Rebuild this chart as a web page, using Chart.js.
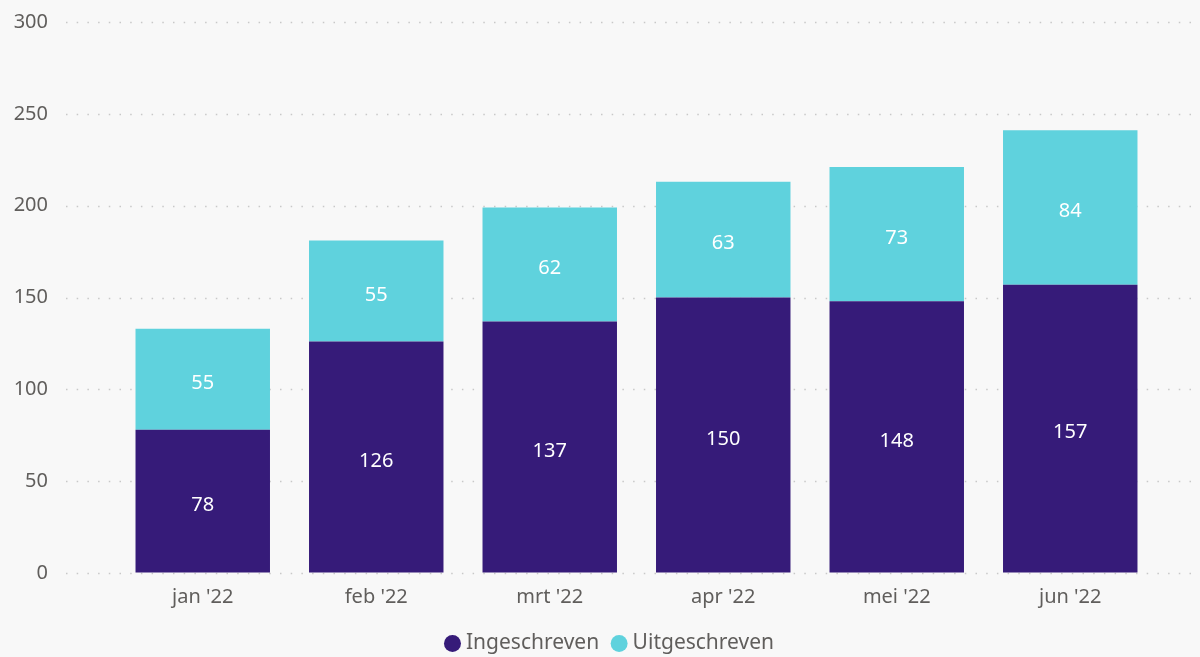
<!DOCTYPE html>
<html>
<head>
<meta charset="utf-8">
<script src="https://cdn.jsdelivr.net/npm/chart.js@4/dist/chart.umd.min.js"></script>
<style>
  html, body { margin: 0; padding: 0; background: #f8f8f8; }
  #wrap { width: 1200px; height: 657px; position: relative; }
</style>
</head>
<body>
<div id="wrap"><canvas id="chart"></canvas></div>
<script>
const MONTHS = ["jan '22", "feb '22", "mrt '22", "apr '22", "mei '22", "jun '22"];
const INGESCHREVEN = [78, 126, 137, 150, 148, 157];
const UITGESCHREVEN = [55, 55, 62, 63, 73, 84];
const Y_TICKS = [0, 50, 100, 150, 200, 250, 300];

const FONT = "'Segoe UI', 'Noto Sans', 'Open Sans', sans-serif";
const TEXT_GREY = "#605e5c";

// dotted horizontal grid that runs past the plot area, like the original
const dottedGrid = {
  id: "dottedGrid",
  beforeDatasetsDraw(chart) {
    const { ctx, scales } = chart;
    ctx.save();
    ctx.strokeStyle = "#c8c8c8";
    ctx.lineWidth = 1.5;
    ctx.setLineDash([1.5, 9.2]);
    for (const v of Y_TICKS) {
      const y = Math.round(scales.y.getPixelForValue(v)) + 0.5;
      ctx.beginPath();
      ctx.moveTo(66, y);
      ctx.lineTo(chart.width, y);
      ctx.stroke();
    }
    ctx.restore();
  },
};

// values written in the middle of each segment
const segmentLabels = {
  id: "segmentLabels",
  afterDatasetsDraw(chart) {
    const { ctx } = chart;
    ctx.save();
    ctx.fillStyle = "#ffffff";
    ctx.font = "20px " + FONT;
    ctx.textAlign = "center";
    ctx.textBaseline = "middle";
    chart.data.datasets.forEach((ds, di) => {
      chart.getDatasetMeta(di).data.forEach((bar, i) => {
        const mid = (bar.y + bar.base) / 2;
        ctx.fillText(String(ds.data[i]), bar.x, mid + 4);
      });
    });
    ctx.restore();
  },
};

new Chart(document.getElementById("chart"), {
  type: "bar",
  data: {
    labels: MONTHS,
    datasets: [
      { label: "Ingeschreven", data: INGESCHREVEN, backgroundColor: "#361b79" },
      { label: "Uitgeschreven", data: UITGESCHREVEN, backgroundColor: "#5fd2dd" },
    ],
  },
  options: {
    responsive: true,
    maintainAspectRatio: false,
    animation: false,
    events: [],
    categoryPercentage: 1,
    barPercentage: 0.775,
    // negative right padding shifts the centred legend to the right, as in the original
    layout: { padding: { left: 0, right: -23.5, top: 22, bottom: -7 } },
    scales: {
      x: {
        stacked: true,
        afterFit: (s) => { s.height = 43; },
        grid: { display: false, drawTicks: false },
        border: { display: false },
        ticks: { color: TEXT_GREY, font: { family: FONT, size: 20 }, padding: 12 },
      },
      y: {
        stacked: true,
        min: 0,
        max: 300,
        afterFit: (s) => { s.width = 116; },
        afterBuildTicks: (s) => { s.ticks = Y_TICKS.map((v) => ({ value: v })); },
        // invisible tick marks push the labels away from the bars
        grid: { display: true, drawOnChartArea: false, drawTicks: true, tickLength: 68, color: "rgba(0,0,0,0)" },
        border: { display: false },
        ticks: { color: TEXT_GREY, font: { family: FONT, size: 20 }, padding: 0 },
      },
      // empty right-hand gutter
      gutter: {
        position: "right",
        display: true,
        afterFit: (s) => { s.width = 66.5; },
        grid: { display: false },
        border: { display: false },
        ticks: { display: false },
      },
    },
    plugins: {
      tooltip: { enabled: false },
      legend: {
        position: "bottom",
        labels: {
          color: TEXT_GREY,
          font: { family: FONT, size: 21 },
          usePointStyle: true,
          pointStyle: "circle",
          boxWidth: 6,
          boxHeight: 12,
          padding: 17,
        },
      },
    },
  },
  plugins: [dottedGrid, segmentLabels],
});
</script>
</body>
</html>
